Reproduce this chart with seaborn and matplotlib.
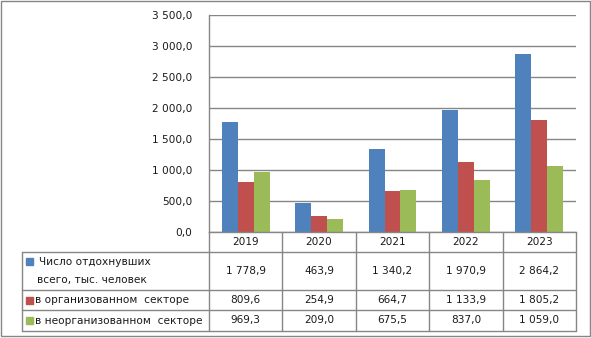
import numpy as np
import pandas as pd
import matplotlib
matplotlib.use("Agg")
import matplotlib.pyplot as plt
from matplotlib.lines import Line2D
from matplotlib.patches import Rectangle
import seaborn as sns

years = ["2019", "2020", "2021", "2022", "2023"]
series_names = ["Число отдохнувших\nвсего, тыс. человек",
                "в организованном  секторе",
                "в неорганизованном  секторе"]
total = [1778.9, 463.9, 1340.2, 1970.9, 2864.2]
organized = [809.6, 254.9, 664.7, 1133.9, 1805.2]
unorganized = [969.3, 209.0, 675.5, 837.0, 1059.0]
yticks = [0, 500, 1000, 1500, 2000, 2500, 3000, 3500]
colors = ["#4F81BD", "#C0504D", "#9BBB59"]

series_vals = [total, organized, unorganized]
df = pd.DataFrame({
    "year": years * 3,
    "series": sum([[s] * len(years) for s in series_names], []),
    "value": total + organized + unorganized,
})

sns.set_theme(style="white")
plt.rcParams["font.family"] = ["DejaVu Sans"]
FS = 7.6
TC = "#1a1a1a"
W, H = 591, 338
fig = plt.figure(figsize=(W / 100, H / 100), dpi=100)

def fx(px):
    return px / W

def fy(py):
    return 1 - py / H

L, R, T, B = 209, 576, 15, 232
ax = fig.add_axes([fx(L), fy(B), fx(R - L), (B - T) / H])
sns.barplot(data=df, x="year", y="value", hue="series", palette=colors,
            width=0.65, gap=0, linewidth=0, saturation=1, ax=ax, legend=False)
ax.set_ylim(0, 3500)
ax.set_xlim(-0.5, len(years) - 0.5)
ax.set_yticks(yticks)
ax.set_yticklabels([f"{v:,.1f}".replace(",", " ").replace(".", ",") for v in yticks],
                   fontsize=FS, color=TC)
ax.set_xticks([])
ax.set_xlabel("")
ax.set_ylabel("")
ax.tick_params(axis="y", length=0, pad=12)
ax.grid(axis="y", color="#868686", linewidth=1)
ax.set_axisbelow(True)
for s in ["top", "right"]:
    ax.spines[s].set_visible(False)
for s in ["left", "bottom"]:
    ax.spines[s].set_color("#868686")
    ax.spines[s].set_linewidth(1)

# Table
lc = "#868686"
def hline(x0, x1, y):
    fig.add_artist(Line2D([fx(x0), fx(x1)], [fy(y), fy(y)], color=lc, lw=1))

def vline(x, y0, y1):
    fig.add_artist(Line2D([fx(x), fx(x)], [fy(y0), fy(y1)], color=lc, lw=1))

TL = 22
rows_y = [232, 252, 290, 310, 331]
colw = (R - L) / len(years)
hline(TL, R, rows_y[1])
for y in rows_y[2:]:
    hline(TL, R, y)
vline(TL, rows_y[1], rows_y[-1])
for i in range(len(years) + 1):
    vline(L + i * colw, rows_y[0], rows_y[-1])

for i, yr in enumerate(years):
    fig.text(fx(L + (i + 0.5) * colw), fy((rows_y[0] + rows_y[1]) / 2), yr,
             ha="center", va="center", fontsize=FS, color=TC)

def fmt(v):
    return f"{v:,.1f}".replace(",", " ").replace(".", ",")

for r, (name, vals, c) in enumerate(zip(series_names, series_vals, colors)):
    y0, y1 = rows_y[r + 1], rows_y[r + 2]
    ym = (y0 + y1) / 2
    for i, v in enumerate(vals):
        fig.text(fx(L + (i + 0.5) * colw), fy(ym), fmt(v),
                 ha="center", va="center", fontsize=FS, color=TC)
    if r == 0:
        ky = y0 + 9
        lines = name.split("\n")
        fig.text(fx(39), fy(y0 + 10), lines[0], ha="left", va="center",
                 fontsize=FS, color=TC)
        fig.text(fx(37), fy(y0 + 28), lines[1], ha="left", va="center",
                 fontsize=FS, color=TC)
    else:
        ky = ym
        fig.text(fx(35), fy(ym), name, ha="left", va="center",
                 fontsize=FS, color=TC)
    fig.add_artist(Rectangle((fx(26), fy(ky + 3.5)), fx(7), 7 / H, color=c))

# Outer border
fig.add_artist(Rectangle((fx(1), fy(336)), fx(589), 335 / H, fill=False,
                         edgecolor="#868686", lw=1))

fig.savefig("out.png", dpi=100)
